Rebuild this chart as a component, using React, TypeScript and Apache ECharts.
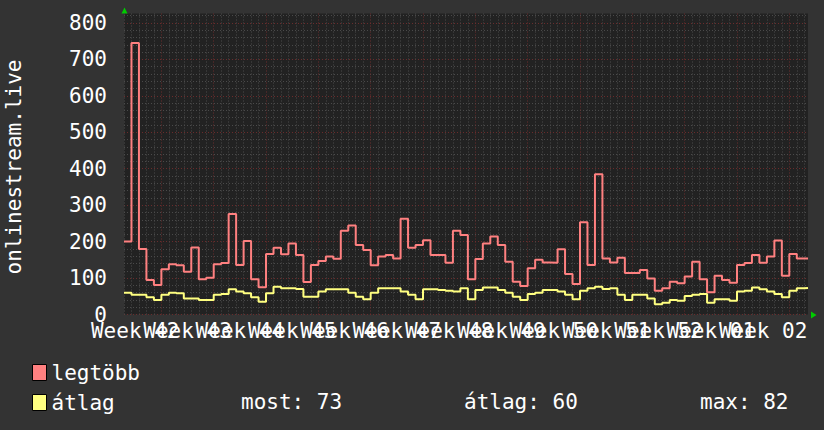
import React, { useEffect, useRef } from "react";
import * as echarts from "echarts";

// ---- data (one value per day) ----
const weekLabels = [
  "Week 42", "Week 43", "Week 44", "Week 45", "Week 46", "Week 47", "Week 48",
  "Week 49", "Week 50", "Week 51", "Week 52", "Week 01", "Week 02",
];

const seriesNames = ["legtöbb", "átlag"];

const legtobb = [
  200, 745, 180, 95, 81, 124, 138, 135, 117, 184, 97, 101, 138, 141, 276, 136,
  202, 97, 75, 166, 183, 165, 195, 163, 89, 136, 147, 159, 153, 230, 244, 191,
  177, 135, 159, 163, 154, 263, 183, 191, 204, 163, 163, 142, 230, 218, 97, 152,
  195, 214, 191, 145, 90, 78, 127, 150, 143, 142, 179, 111, 84, 253, 136, 385,
  154, 143, 156, 114, 114, 122, 99, 65, 72, 90, 86, 104, 145, 97, 61, 106,
  95, 87, 136, 141, 163, 142, 159, 203, 106, 166, 154, 154,
];

const atlag = [
  60, 54, 54, 47, 40, 54, 60, 58, 44, 44, 40, 40, 54, 56, 69, 63,
  58, 47, 35, 58, 76, 72, 72, 70, 49, 49, 63, 69, 69, 69, 60, 49,
  42, 60, 72, 72, 72, 63, 54, 42, 69, 69, 67, 65, 63, 72, 42, 67,
  74, 74, 67, 60, 49, 40, 56, 60, 67, 67, 63, 54, 42, 65, 72, 76,
  70, 72, 54, 40, 54, 54, 44, 28, 32, 40, 38, 51, 54, 56, 32, 42,
  42, 38, 63, 65, 74, 69, 63, 56, 47, 65, 72, 73,
];

const statNames = ["most", "átlag", "max"];
const statValues = [73, 60, 82];

const axisTitle = "onlinestream.live";

const X_MAX = 91.5; // days shown
const Y_MAX = 826;
const FIRST_MONDAY = 5; // day index of first week boundary
const LABEL_OFFSET = 1.5; // day index of first week-label centre

export default function App() {
  const ref = useRef<HTMLDivElement>(null);

  useEffect(() => {
    const chart = echarts.init(ref.current!, null, { renderer: "svg" });
    const font = "DejaVu Sans Mono";
    const red = "#ff8080";
    const yellow = "#ffff80";
    const minor = "#4a4a4a";
    const major = "#6a2c2c";

    const toPts = (arr: number[]) => {
      const p: number[][] = arr.map((v, i) => [i, v]);
      p.push([X_MAX, arr[arr.length - 1]]);
      return p;
    };

    const xColors = Array.from({ length: 7 }, (_, i) => (i === FIRST_MONDAY ? major : minor));
    const yColors = [major, minor, minor, minor, minor];

    const statX = [241, 464, 700];

    chart.setOption({
      animation: false,
      backgroundColor: "#333333",
      textStyle: { fontFamily: font },
      grid: {
        left: 124,
        right: 16,
        top: 13.5,
        bottom: 115.5,
        show: true,
        backgroundColor: "#222222",
        borderWidth: 0,
      },
      xAxis: [
        {
          type: "value",
          min: 0,
          max: X_MAX,
          interval: 1,
          axisLine: { show: false },
          axisTick: { show: false },
          axisLabel: { show: false },
          splitLine: {
            show: true,
            showMaxLine: false,
            lineStyle: { color: xColors, type: [1, 2], width: 1 },
          },
        },
        {
          type: "value",
          position: "bottom",
          min: 0,
          max: X_MAX,
          interval: 0.5,
          axisLine: { show: false },
          axisTick: { show: false },
          splitLine: { show: false },
          axisLabel: {
            show: true,
            color: "#ffffff",
            fontFamily: font,
            fontSize: 21,
            margin: 6,
            hideOverlap: false,
            formatter: (v: number) => {
              const k = (v - LABEL_OFFSET) / 7;
              return Number.isInteger(k) && k >= 0 && k < weekLabels.length ? weekLabels[k] : "";
            },
          },
        },
      ],
      yAxis: {
        type: "value",
        min: 0,
        max: Y_MAX,
        interval: 20,
        axisLine: { show: false },
        axisTick: { show: false },
        axisLabel: {
          color: "#ffffff",
          fontFamily: font,
          fontSize: 21,
          margin: 17,
          showMaxLabel: false,
          formatter: (v: number) => (v % 100 === 0 ? String(v) : ""),
        },
        splitLine: {
          show: true,
          showMaxLine: false,
          lineStyle: { color: yColors, type: [1, 2], width: 1 },
        },
      },
      legend: {
        orient: "vertical",
        left: 27,
        top: 357,
        itemWidth: 14,
        itemHeight: 16,
        itemGap: 9,
        icon: "rect",
        selectedMode: false,
        data: seriesNames,
        textStyle: { color: "#ffffff", fontSize: 21, fontFamily: font },
        itemStyle: { borderColor: "#000000", borderWidth: 1 },
      },
      series: [
        {
          name: seriesNames[0],
          type: "line",
          step: "end",
          xAxisIndex: 0,
          yAxisIndex: 0,
          showSymbol: false,
          symbol: "none",
          data: toPts(legtobb),
          itemStyle: { color: red },
          lineStyle: { color: red, width: 2 },
        },
        {
          name: seriesNames[1],
          type: "line",
          step: "end",
          xAxisIndex: 0,
          yAxisIndex: 0,
          showSymbol: false,
          symbol: "none",
          data: toPts(atlag),
          itemStyle: { color: yellow },
          lineStyle: { color: yellow, width: 2 },
        },
      ],
      graphic: [
        {
          type: "text",
          x: 14,
          y: 167,
          rotation: Math.PI / 2,
          style: {
            text: axisTitle,
            fill: "#ffffff",
            font: `21px ${font}`,
            align: "center",
            verticalAlign: "middle",
          },
        },
        ...statNames.map((n, i) => ({
          type: "text",
          x: statX[i],
          y: 402,
          style: {
            text: `${n}: ${statValues[i]}`,
            fill: "#ffffff",
            font: `21px ${font}`,
            align: "left",
            verticalAlign: "middle",
          },
        })),
        {
          type: "polygon",
          shape: { points: [[121.5, 13.5], [127.5, 13.5], [124.5, 7.5]] },
          style: { fill: "#00cc00" },
        },
        {
          type: "polygon",
          shape: { points: [[811, 311.5], [811, 318.5], [816.5, 315]] },
          style: { fill: "#00cc00" },
        },
      ],
    });

    return () => chart.dispose();
  }, []);

  return (
    <div
      ref={ref}
      style={{ position: "absolute", left: 0, top: 0, width: 824, height: 430 }}
    />
  );
}
